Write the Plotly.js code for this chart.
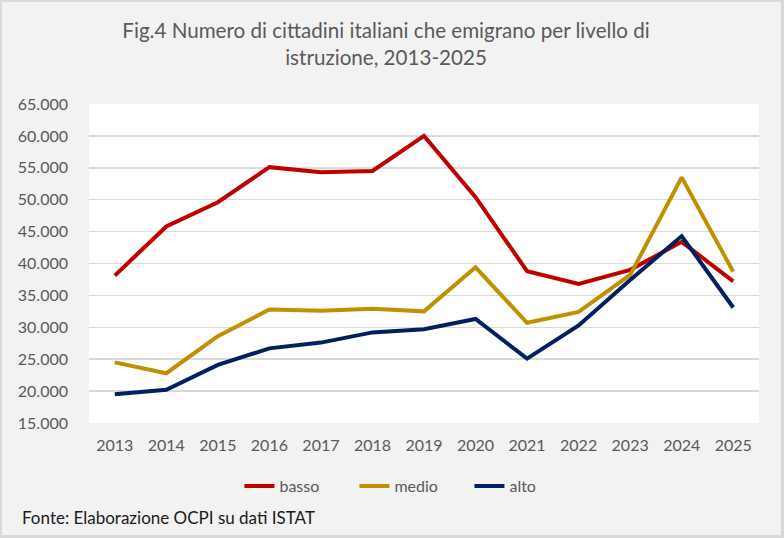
<!DOCTYPE html>
<html>
<head>
<meta charset="utf-8">
<script src="https://cdn.plot.ly/plotly-3.0.1.min.js"></script>
<style>
  body { margin: 0; background: #f2f2f2; }
  #wrap { position: relative; width: 784px; height: 538px; }
  #chart { width: 784px; height: 538px; }
  #frame {
    position: absolute; left: 0; top: 0; width: 784px; height: 538px;
    box-sizing: border-box; border: 2px solid #d9d9d9; border-right-width: 3px; border-bottom-width: 3px;
    pointer-events: none;
  }
</style>
</head>
<body>
<div id="wrap">
  <div id="chart"></div>
  <div id="frame"></div>
</div>
<script>
// emigrati italiani per livello di istruzione
const anni = ["2013", "2014", "2015", "2016", "2017", "2018", "2019",
              "2020", "2021", "2022", "2023", "2024", "2025"];
const basso = [38100, 45800, 49600, 55100, 54300, 54500, 60000, 50400, 38800, 36800, 39000, 43400, 37200];
const medio = [24500, 22800, 28600, 32800, 32600, 32900, 32500, 39400, 30700, 32400, 38200, 53500, 38700];
const alto  = [19500, 20200, 24100, 26700, 27600, 29200, 29700, 31300, 25100, 30300, 37400, 44300, 33100];
const yTicks = [15000, 20000, 25000, 30000, 35000, 40000, 45000, 50000, 55000, 60000, 65000];

const fontFam = "Lato, 'Open Sans', sans-serif";

function serie(nome, valori, colore) {
  return {
    x: anni,
    y: valori,
    name: nome,
    type: "scatter",
    mode: "lines",
    line: { color: colore, width: 4 },
    hoverinfo: "skip",
  };
}

const traces = [
  serie("basso", basso, "#c00000"),
  serie("medio", medio, "#bf9000"),
  serie("alto", alto, "#002060"),
];

const layout = {
  width: 784,
  height: 538,
  paper_bgcolor: "#f2f2f2",
  plot_bgcolor: "#ffffff",
  separators: ",.",
  font: { family: fontFam, color: "#595959", size: 16 },
  margin: { l: 89, r: 25, t: 104, b: 115, pad: 0 },
  title: {
    text: "Fig.4 Numero di cittadini italiani che emigrano per livello di<br>istruzione, 2013-2025",
    font: { family: fontFam, size: 20.6, color: "#595959" },
    xref: "container",
    x: 386 / 784,
    xanchor: "center",
    yref: "container",
    y: 1 - 38 / 538,
    yanchor: "middle",
  },
  xaxis: {
    type: "category",
    range: [-0.5, 12.5],
    showgrid: false,
    zeroline: false,
    showline: false,
    ticks: "",
    ticklabelstandoff: 11,
    tickfont: { size: 16, color: "#595959" },
    fixedrange: true,
  },
  yaxis: {
    range: [15000, 65000],
    tickvals: yTicks,
    tickformat: ",d",
    showgrid: true,
    gridcolor: "#d9d9d9",
    gridwidth: 1.5,
    zeroline: false,
    showline: false,
    ticks: "",
    ticklabelstandoff: 20,
    tickfont: { size: 16, color: "#595959" },
    fixedrange: true,
  },
  showlegend: true,
  legend: {
    orientation: "h",
    x: 0.482,
    xanchor: "center",
    y: (423 - 486) / 319,
    yanchor: "middle",
    font: { size: 16, color: "#595959" },
    bgcolor: "rgba(0,0,0,0)",
    entrywidth: 70,
    entrywidthmode: "pixels",
  },
  annotations: [
    {
      text: "Fonte: Elaborazione OCPI su dati ISTAT",
      xref: "paper",
      yref: "paper",
      x: (20 - 89) / 670,
      y: (423 - 517) / 319,
      xanchor: "left",
      yanchor: "middle",
      showarrow: false,
      font: { family: fontFam, size: 17, color: "#1a1a1a" },
    },
  ],
};

Plotly.newPlot("chart", traces, layout, { staticPlot: true, displayModeBar: false });
</script>
</body>
</html>
